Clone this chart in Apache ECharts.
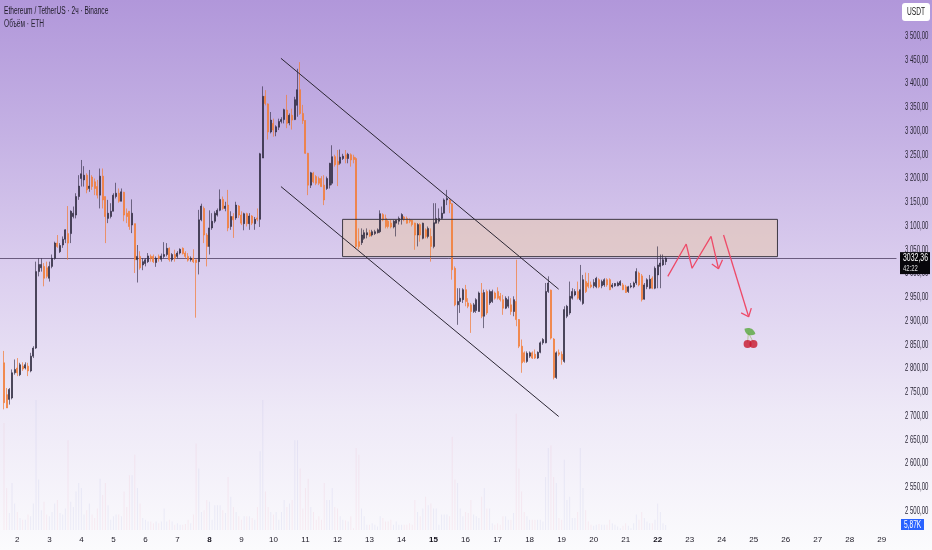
<!DOCTYPE html>
<html><head><meta charset="utf-8">
<style>html,body{margin:0;padding:0;background:#fff}#c{width:932px;height:550px}</style>
<script src="https://cdn.jsdelivr.net/npm/echarts@6/dist/echarts.min.js"></script>
</head><body><div id="c"></div>
<script>
const chartTitle='Ethereum / TetherUS · 2ч · Binance';
const volumeTitle='Объём · ETH';
const unitLabel='USDT';
const lastPrice=3032.36;
const lastPriceLabel='3032,36';
const countdownLabel='42:22';
const lastVolumeLabel='5,87K';
const dayLabels=[2,3,4,5,6,7,8,9,10,11,12,13,14,15,16,17,18,19,20,21,22,23,24,25,26,27,28,29];
const boldDays=[8,15,22];
const priceTicks=[3500,3450,3400,3350,3300,3250,3200,3150,3100,3050,3000,2950,2900,2850,2800,2750,2700,2650,2600,2550,2500];
// [open, close, low, high], 2-hour candles, first slot empty
const candles=[null,
[2812,2728,2714,2837],[2745,2717,2717,2759],[2735,2756,2724,2759],[2738,2791,2735,2798],[2791,2798,2787,2819],
[2801,2791,2784,2822],[2787,2808,2784,2812],[2805,2799,2795,2813],[2801,2808,2798,2813],[2805,2795,2784,2812],
[2795,2826,2792,2833],[2826,2843,2822,2847],[2843,3004,2841,3025],[3004,3019,2994,3032],[3012,3019,3004,3032],
[3015,2990,2973,3022],[3012,2994,2990,3025],[2990,3015,2983,3025],[3015,3032,3011,3040],[3032,3064,3029,3067],
[3064,3057,3054,3081],[3046,3059,3043,3064],[3060,3072,3054,3078],[3072,3092,3064,3093],[3084,3064,3029,3142],
[3084,3131,3064,3133],[3120,3127,3116,3141],[3123,3162,3116,3169],[3162,3184,3155,3207],[3200,3210,3183,3239],
[3197,3207,3183,3226],[3207,3176,3169,3211],[3179,3184,3172,3218],[3203,3183,3176,3207],[3193,3179,3165,3200],
[3183,3165,3158,3197],[3165,3205,3137,3221],[3205,3155,3137,3221],[3162,3120,3064,3162],[3116,3127,3106,3155],
[3120,3131,3116,3148],[3131,3165,3131,3169],[3162,3169,3158,3191],[3169,3152,3149,3179],[3152,3172,3152,3179],
[3171,3123,3110,3172],[3127,3120,3106,3137],[3131,3099,3092,3131],[3102,3127,3085,3156],[3105,3029,3001,3105],
[3029,3036,2981,3060],[3036,3012,3008,3047],[3018,3025,3007,3032],[3021,3029,3015,3032],[3025,3037,3022,3043],
[3036,3032,3025,3040],[3036,3025,3022,3040],[3023,3032,3014,3036],[3036,3032,3025,3040],[3030,3037,3025,3042],
[3036,3040,3032,3066],[3040,3053,3036,3064],[3053,3029,3025,3055],[3029,3040,3025,3043],[3040,3032,3025,3050],
[3036,3043,3032,3047],[3043,3051,3040,3053],[3053,3042,3040,3055],[3043,3036,3032,3047],[3036,3028,3025,3043],
[3029,3032,3025,3036],[3032,3025,3022,3051],[3029,3023,2907,3029],[3025,3113,2998,3134],[3113,3142,3110,3147],
[3137,3081,3064,3141],[3081,3057,3015,3085],[3057,3096,3040,3133],[3096,3110,3092,3127],[3110,3127,3106,3131],
[3123,3133,3120,3137],[3133,3156,3131,3177],[3156,3137,3134,3162],[3137,3142,3131,3151],[3144,3096,3089,3176],
[3099,3120,3092,3131],[3120,3113,3075,3127],[3117,3144,3113,3151],[3142,3123,3117,3144],[3123,3106,3102,3131],
[3105,3126,3091,3128],[3126,3105,3099,3128],[3105,3121,3092,3127],[3121,3106,3102,3123],[3105,3114,3092,3119],
[3117,3114,3110,3137],[3114,3252,3098,3254],[3243,3373,3243,3394],[3373,3358,3354,3386],[3357,3298,3282,3358],
[3298,3323,3295,3340],[3316,3302,3288,3326],[3298,3309,3289,3312],[3308,3320,3302,3326],[3320,3324,3316,3329],
[3324,3345,3316,3347],[3344,3316,3306,3376],[3317,3333,3312,3337],[3333,3323,3303,3347],[3324,3366,3323,3372],
[3354,3387,3330,3431],[3387,3337,3334,3445],[3337,3322,3315,3355],[3322,3253,3252,3323],[3253,3186,3165,3254],
[3186,3212,3180,3214],[3211,3193,3190,3214],[3204,3190,3186,3207],[3200,3190,3186,3204],[3200,3183,3182,3205],
[3186,3155,3144,3207],[3179,3200,3176,3204],[3186,3232,3179,3233],[3190,3246,3186,3270],[3246,3229,3225,3250],
[3236,3229,3184,3260],[3232,3245,3229,3261],[3242,3247,3239,3252],[3250,3242,3232,3260],[3242,3251,3232,3254],
[3250,3239,3225,3253],[3245,3240,3232,3250],[3242,3057,3053,3245],[3067,3057,3051,3095],[3065,3081,3060,3095],
[3074,3086,3071,3092],[3081,3086,3074,3095],[3086,3079,3077,3092],[3081,3088,3078,3092],[3084,3088,3081,3092],
[3086,3092,3084,3095],[3088,3126,3085,3133],[3124,3113,3110,3127],[3116,3099,3095,3124],[3110,3099,3095,3113],
[3106,3098,3095,3113],[3098,3110,3095,3113],[3106,3112,3078,3113],[3110,3116,3103,3120],[3114,3124,3103,3127],
[3119,3113,3110,3121],[3116,3106,3105,3120],[3113,3110,3106,3116],[3112,3103,3099,3113],[3106,3081,3050,3107],
[3081,3103,3057,3106],[3103,3081,3067,3106],[3074,3106,3072,3107],[3092,3078,3074,3095],[3078,3095,3074,3099],
[3078,3057,3025,3095],[3057,3107,3053,3148],[3106,3116,3105,3148],[3110,3116,3105,3137],[3116,3127,3114,3141],
[3127,3155,3126,3158],[3155,3158,3144,3176],[3155,3147,3127,3156],[3147,3008,2987,3148],[3011,2934,2931,3015],
[2934,2941,2892,2969],[2941,2948,2917,2969],[2945,2966,2938,2969],[2966,2941,2931,2976],[2938,2931,2927,2948],
[2934,2920,2875,2938],[2920,2934,2917,2938],[2922,2945,2917,2948],[2920,2959,2920,2962],[2959,2910,2906,2980],
[2910,2960,2885,2966],[2962,2917,2913,2966],[2938,2962,2934,2966],[2941,2962,2938,2966],[2959,2948,2945,2962],
[2962,2948,2945,2971],[2952,2945,2941,2959],[2945,2927,2913,2955],[2927,2948,2925,2952],[2931,2945,2927,2952],
[2934,2920,2913,2948],[2920,2945,2910,2952],[2941,2903,2889,3029],[2903,2847,2843,2904],[2847,2812,2791,2861],
[2833,2815,2812,2836],[2815,2832,2812,2836],[2826,2833,2822,2836],[2833,2822,2820,2836],[2830,2822,2820,2840],
[2822,2834,2820,2836],[2834,2854,2832,2857],[2854,2861,2850,2864],[2854,2962,2853,2980],[2962,2980,2959,2994],
[2965,2864,2861,2966],[2862,2781,2777,2864],[2781,2833,2778,2836],[2833,2830,2826,2840],[2830,2819,2808,2836],
[2815,2924,2812,2931],[2910,2931,2906,2934],[2917,2952,2913,2983],[2948,2962,2945,2969],[2955,2962,2952,2967],
[2962,2948,2945,2983],[2945,2966,2941,3018],[2937,2987,2934,2997],[2983,2962,2959,3002],[2980,2973,2969,3001],
[2976,2972,2969,2983],[2974,2981,2969,2988],[2972,2990,2969,2993],[2987,2972,2969,2990],[2974,2983,2969,2987],
[2976,2987,2972,2990],[2987,2976,2972,2990],[2987,2966,2965,2990],[2972,2976,2969,2980],[2974,2979,2972,2980],
[2974,2980,2973,2983],[2976,2983,2974,2986],[2976,2966,2965,2980],[2972,2960,2959,2976],[2962,2972,2959,2974],
[2972,2974,2969,2980],[2972,2980,2969,2983],[2980,3004,2976,3011],[3001,2976,2973,3004],[2995,2945,2941,2999],
[2946,2976,2945,2980],[2972,2987,2967,2990],[2969,2988,2967,2997],[2990,2969,2967,2994],[2969,3011,2967,3015],
[2997,3018,2969,3057],[3015,3022,2969,3040],[3018,3029,3016,3040],[3025,3032.36,3018,3034]];
// volume per candle, thousands of ETH
const volumes=[null,
125,49,20,55,31,21,14,12,12,18,16,31,152,59,23,33,18,16,21,31,35,20,18,25,105,33,27,45,55,49,18,23,31,18,14,25,60,41,55,29,
12,16,18,18,16,45,27,64,64,88,49,31,14,12,10,10,8,10,8,10,25,10,12,10,6,8,6,6,7,12,8,18,101,72,21,23,35,33,12,29,29,29,23,20,
62,39,27,21,16,12,16,16,16,14,12,27,92,152,45,27,21,18,21,12,21,35,27,31,35,105,105,72,25,49,60,27,21,12,16,12,55,35,35,49,27,25,
16,12,11,10,16,2,96,88,25,16,6,6,8,6,4,16,14,10,10,12,6,10,6,6,6,6,8,6,35,21,16,25,39,29,31,25,25,6,18,18,18,16,109,59,55,25,16,21,
20,35,18,16,14,39,49,25,25,8,6,8,6,16,16,12,12,20,136,72,45,21,16,12,12,12,12,12,10,62,96,99,62,55,14,12,82,35,39,14,14,21,96,49,23,
10,6,5,6,7,6,6,6,12,8,6,4,2,5,8,5,2,8,18,12,21,14,10,8,8,12,31,21,8,5.87];
// drawings as [candle index, price]
const channelUpper=[[104.8,3453],[208.9,2967]];
const channelLower=[[104.8,3183],[208.9,2699]];
const zoneCorners=[[127.9,3114],[290.9,3035.5]];
const zigzag=[[249.8,2994],[256.7,3062],[258.9,3011],[266,3078],[268.8,3010]];
const zigzagHead=[[266.3,3020],[268.8,3010],[270.3,3029]];
const dropLine=[[270.7,3081],[280.1,2909]];
const dropHead=[[277.3,2917],[280.1,2909],[281.1,2927]];
const cherryFruit=[[279.7,2851.6],[281.9,2851.6]];
const cherryLeaf=[[280.5,2878]];
const cherryStemA=[[280,2875],[279.7,2855]];
const cherryStemB=[[280,2875],[281.9,2855]];

const FONT='"Liberation Sans",sans-serif';
const SQUEEZE=.66, SQUEEZE_TICK=.6;
const SLOTS=336, BAND=2.672;
const categories=Array.from({length:SLOTS},(_,i)=>{
  const k=(i-6)/12; return Number.isInteger(k)&&k>=0&&k<dayLabels.length?String(dayLabels[k]):'';
});
const gridL=-BAND/2, gridW=SLOTS*BAND;
const RED='#ee4a68', LINE='#2b2633';
const at=a=>a.map(p=>[p[0]+.5,p[1]]);
function poly(data,color,width,z){return {type:'line',xAxisIndex:2,yAxisIndex:0,data:at(data),showSymbol:false,symbol:'none',silent:true,z:z||8,
  lineStyle:{color,width:width||1},clip:false};}
const fmtPrice=v=>{const s=v.toFixed(2).replace('.',',');return s[0]+' '+s.slice(1);};
const chart=echarts.init(document.getElementById('c'),null,{renderer:'canvas'});
const z0=zoneCorners[0], z1=zoneCorners[1];
chart.setOption({
  animation:false,
  backgroundColor:new echarts.graphic.LinearGradient(0,0,0,1,[
    {offset:0,color:'#b197da'},{offset:.25,color:'#c5b2e4'},{offset:.5,color:'#dccfef'},{offset:.75,color:'#eee9f7'},{offset:1,color:'#fbfbfd'}]),
  grid:[{left:gridL,width:gridW,top:36,height:475},{left:gridL,width:gridW,top:400,height:130}],
  xAxis:[
    {type:'category',gridIndex:0,data:categories,show:false},
    {type:'category',gridIndex:1,data:categories,axisLine:{show:false},axisTick:{show:false},splitLine:{show:false},
      axisLabel:{show:true,margin:6,hideOverlap:false,interval:i=>(i-6)%12===0&&i>=6&&i<=330,
        formatter:v=>boldDays.includes(+v)?'{b|'+v+'}':v,
        fontFamily:FONT,fontSize:8,color:'#1d1a26',
        rich:{b:{fontFamily:FONT,fontSize:8,fontWeight:'bold',color:'#14111c'}}}},
    {type:'value',gridIndex:0,min:0,max:SLOTS,interval:SLOTS,show:false}
  ],
  yAxis:[
    {type:'value',gridIndex:0,position:'right',min:2500,max:3500,interval:50,
      axisLine:{show:false},axisTick:{show:false},splitLine:{show:false},axisLabel:{show:false}},
    {type:'value',gridIndex:1,min:0,max:152,show:false}
  ],
  series:[
    {type:'bar',xAxisIndex:1,yAxisIndex:1,barWidth:1,silent:true,z:1,
      data:volumes.map((v,i)=>{
        if(v==null)return null;
        const c=candles[i];
        return {value:v,itemStyle:{color:c[1]>=c[0]?'rgba(120,130,205,.1)':'rgba(238,120,150,.1)'}};
      })},
    {type:'candlestick',xAxisIndex:0,yAxisIndex:0,barWidth:1.5,silent:true,z:5,
      data:candles.map(c=>c||['-','-','-','-']),
      itemStyle:{color:'#14121b',color0:'#f27a2e',borderColor:'rgba(45,40,65,.62)',borderColor0:'rgba(243,125,55,.72)',borderWidth:1},
      markLine:{silent:true,symbol:'none',z:4,animation:false,label:{show:false},
        lineStyle:{color:'rgba(70,55,90,.75)',width:1,type:'solid'},
        data:[{yAxis:lastPrice}]}},
    Object.assign(poly([z0,[z1[0],z0[1]],z1,[z0[0],z1[1]],z0],'#3d3844',1,7),{
      markArea:{silent:true,itemStyle:{color:'rgba(230,200,180,.6)',borderWidth:0},
        data:[[{coord:at([z0])[0]},{coord:at([z1])[0]}]]}}),
    poly(channelUpper,LINE),poly(channelLower,LINE),
    poly(zigzag,RED,1.3),poly(zigzagHead,RED,1.3),poly(dropLine,RED,1.3),poly(dropHead,RED,1.3),
    poly(cherryStemA,'#b9c79a'),poly(cherryStemB,'#b9c79a'),
    {type:'scatter',xAxisIndex:2,yAxisIndex:0,data:at(cherryLeaf),symbol:'path://M0 5C1 1 5 -1 10 0C10 4 6 7 0 5Z',symbolSize:[10,8],symbolRotate:-60,itemStyle:{color:'#58a83c'},silent:true,z:9},
    {type:'scatter',xAxisIndex:2,yAxisIndex:0,data:at(cherryFruit),symbol:'circle',symbolSize:8,itemStyle:{color:'#c8162c'},silent:true,z:9},
    // price-axis tick labels, placed through the price scale and squeezed to the narrow face of the original
    {type:'custom',xAxisIndex:2,yAxisIndex:0,silent:true,z:12,clip:false,
      data:priceTicks.map(p=>[SLOTS,p]),
      renderItem:(params,api)=>{
        const pt=api.coord([api.value(0),api.value(1)]);
        return {type:'text',x:905,y:pt[1],scaleX:SQUEEZE_TICK,
          style:{text:fmtPrice(api.value(1)),x:0,y:0,fontFamily:FONT,fontSize:10,fill:'#2a2636',textAlign:'left',textVerticalAlign:'middle'}};
      }},
    // last-price tag
    {type:'custom',xAxisIndex:2,yAxisIndex:0,silent:true,z:14,clip:false,
      data:[[SLOTS,lastPrice]],
      renderItem:(params,api)=>{
        const pt=api.coord([api.value(0),api.value(1)]);
        return {type:'group',x:900,y:pt[1],children:[
          {type:'rect',shape:{x:0,y:-6,width:30,height:22},style:{fill:'#08070b'}},
          {type:'text',x:3,y:0,scaleX:SQUEEZE,style:{text:lastPriceLabel,x:0,y:0,fontFamily:FONT,fontSize:10.5,fill:'#fff',textAlign:'left',textVerticalAlign:'middle'}},
          {type:'text',x:3,y:10,scaleX:SQUEEZE,style:{text:countdownLabel,x:0,y:0,fontFamily:FONT,fontSize:9,fill:'#ddd',textAlign:'left',textVerticalAlign:'middle'}}
        ]};
      }}
  ],
  graphic:[
    {type:'text',x:4,y:6,scaleX:SQUEEZE,z:30,style:{text:chartTitle,fontFamily:FONT,fontSize:10,fill:'#1d1a26'}},
    {type:'text',x:4,y:19,scaleX:SQUEEZE,z:30,style:{text:volumeTitle,fontFamily:FONT,fontSize:10,fill:'#2a2636'}},
    {type:'rect',x:902,y:3,shape:{width:28,height:18,r:3},style:{fill:'#fff'},z:30},
    {type:'text',x:907,y:7,scaleX:SQUEEZE,z:31,style:{text:unitLabel,fontFamily:FONT,fontSize:10,fill:'#222'}},
    {type:'rect',x:901,y:519,shape:{width:23,height:11},style:{fill:'#2962ff'},z:30},
    {type:'text',x:904,y:520,scaleX:SQUEEZE,z:31,style:{text:lastVolumeLabel,fontFamily:FONT,fontSize:10,fill:'#fff'}}
  ]
});
</script></body></html>
